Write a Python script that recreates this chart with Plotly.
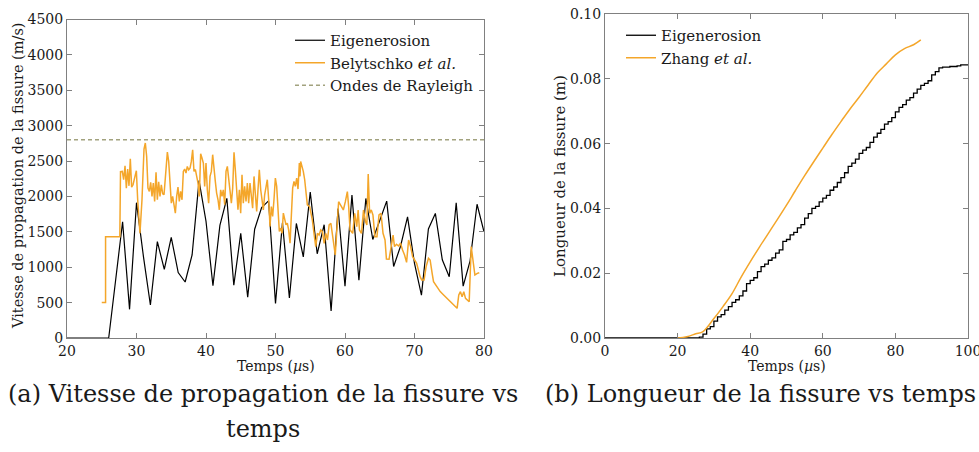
import plotly.graph_objects as go

# ---------------- data: left panel (crack speed) ----------------
eig_t = list(range(20, 81))
eig_v = [0, 0, 0, 0, 0, 0, 0, 820, 1643, 405, 1912, 1150, 466, 1361, 970, 1423,
         925, 791, 1173, 2223, 1650, 739, 1590, 1973, 745, 1478, 578, 1537, 1843,
         1938, 488, 1627, 566, 1618, 1146, 2062, 1190, 1600, 382, 1830, 731, 2019,
         816, 1972, 1392, 1660, 1934, 1010, 1300, 1712, 1053, 605, 1540, 1760, 1105,
         865, 1911, 733, 1090, 1890, 1500]

bel_t = [25.0, 25.55, 25.55, 27.6, 27.7, 27.96, 28.15, 28.35, 28.54, 28.73, 28.92,
         29.11, 29.30, 29.50, 29.78, 29.98, 30.17, 30.50, 30.79, 31.08, 31.27, 31.46,
         31.65, 31.85, 32.04, 32.23, 32.42, 32.61, 32.81, 33.0, 33.19, 33.38, 33.57,
         33.77, 33.96, 34.24, 34.44, 34.63, 34.82, 35.01, 35.20, 35.40, 35.59, 35.78,
         35.97, 36.16, 36.35, 36.55, 36.74, 36.93, 37.12, 37.31, 37.51, 37.70, 37.89,
         38.08, 38.27, 38.47, 38.66, 38.85, 39.04, 39.23, 39.42, 39.62, 39.81, 40.0,
         40.19, 40.38, 40.58, 40.77, 40.96, 41.15, 41.34, 41.53, 41.73, 41.92, 42.11,
         42.30, 42.49, 42.69, 42.88, 43.07, 43.26, 43.45, 43.65, 43.84, 44.03, 44.22,
         44.41, 44.60, 44.80, 44.99, 45.18, 45.37, 45.56, 45.76, 45.95, 46.14, 46.33,
         46.52, 46.71, 46.91, 47.10, 47.29, 47.48, 47.67, 47.87, 48.06, 48.25, 48.44,
         48.63, 48.82, 49.02, 49.21, 49.40, 49.59, 49.78, 49.98, 50.17, 50.36, 50.55,
         50.74, 50.94, 51.13, 51.32, 51.51, 51.70, 51.89, 52.09, 52.28, 52.47, 52.66,
         52.85, 53.05, 53.24, 53.43, 53.53, 53.62, 53.81, 54.0, 54.20, 54.39, 54.58,
         54.92, 55.30, 55.54, 55.79, 56.03, 56.27, 56.51, 56.76, 57.0, 57.24, 57.48,
         57.72, 57.97, 58.21, 58.60, 59.08, 59.42, 59.76, 60.05, 60.34, 60.53, 60.73,
         61.11, 61.40, 61.69, 61.89, 62.08, 62.37, 62.66, 62.95, 63.15, 63.34, 63.54,
         63.78, 64.02, 64.31, 64.60, 64.89, 65.18, 65.47, 65.76, 65.96, 66.34, 66.73,
         66.92, 67.12, 67.41, 67.70, 67.99, 68.28, 68.57, 68.86, 69.15, 69.44, 69.73,
         70.02, 70.31, 70.80, 71.04, 71.38, 71.67, 72.01, 72.25, 72.54, 72.74, 73.22,
         73.70, 74.19, 74.67, 75.16, 75.64, 76.13, 76.37, 76.61, 76.85, 77.09, 77.34,
         77.58, 77.87, 78.16, 78.45, 78.69, 79.03, 79.32]
bel_v = [500, 500, 1430, 1430, 2350, 2354, 2236, 2434, 2118, 2387, 2150,
         2533, 2132, 2165, 2283, 2363, 1953, 1481, 1953, 2670, 2755, 2566,
         2118, 2071, 2198, 2000, 2189, 1929, 2340, 1953, 2207, 2000, 2165,
         2038, 2024, 2434, 2627, 2495, 2094, 1906, 2000, 1858, 1764, 2000,
         2132, 1929, 2071, 1953, 2354, 2387, 2330, 2424, 2377, 2400, 2495,
         2660, 2354, 2380, 2306, 2189, 2000, 2604, 2542, 2472, 2142, 2472,
         2094, 1906, 2283, 2354, 2590, 2330, 2212, 2047, 1953, 1811, 2094,
         2000, 2094, 1882, 2354, 2424, 2236, 2094, 1906, 2118, 2623, 2377,
         2071, 1811, 2094, 1764, 2306, 1906, 2142, 1929, 2189, 1906, 2189,
         2047, 1835, 2283, 1953, 1788, 2094, 2377, 2094, 1953, 1811, 2024,
         2142, 2236, 1953, 1575, 1858, 1717, 1953, 2259, 2142, 1811, 1505,
         1552, 1481, 1764, 1693, 1599, 1622, 1528, 1340, 1811, 2118, 2212,
         2142, 2259, 2104, 2472, 2283, 2495, 2424, 2354, 2236, 2047, 1882,
         1856, 1667, 1479, 1291, 1479, 1455, 1526, 1502, 1338, 1479, 1385,
         1597, 1620, 1432, 1173, 1926, 1856, 1809, 1926, 2068, 1856, 1526,
         1479, 1762, 1573, 1809, 1526, 1479, 1809, 1644, 1597, 2317, 1762,
         1809, 1738, 1432, 1432, 1738, 1762, 1479, 1385, 1116, 1112, 1338,
         1455, 1291, 1324, 1300, 1338, 1243, 1173, 1069, 1385, 1291, 1149,
         1102, 1055, 867, 820, 820, 1008, 1126, 1102, 914, 796, 725,
         655, 608, 560, 513, 466, 419, 608, 655, 584, 655, 560,
         537, 513, 1291, 1102, 890, 914, 923]

rayleigh_t = [20, 80]
rayleigh_speed = [2800, 2800]

# ---------------- data: right panel (crack length) ----------------
len_eig_t = [0, 26, 27, 28, 29, 30, 31, 32, 33, 34, 35, 36, 37, 38, 39, 40, 41, 42,
             43, 44, 45, 46, 47, 48, 49, 50, 51, 52, 53, 54, 55, 56, 57, 58, 59, 60,
             61, 62, 63, 64, 65, 66, 67, 68, 69, 70, 71, 72, 73, 74, 75, 76, 77, 78,
             79, 80, 81, 82, 83, 84, 85, 86, 87, 88, 89, 90, 91, 92, 93, 95, 97, 98, 100]
len_eig_v = [0.0, 0.0003, 0.0012, 0.0028, 0.0035, 0.0052, 0.0065, 0.0072, 0.0086,
             0.0097, 0.0110, 0.0118, 0.0130, 0.0145, 0.0168, 0.0178, 0.0186, 0.0205,
             0.0220, 0.0228, 0.0240, 0.0247, 0.0262, 0.0272, 0.0298, 0.0304, 0.0318,
             0.0326, 0.0340, 0.0350, 0.0370, 0.0384, 0.0400, 0.0406, 0.0420, 0.0432,
             0.0440, 0.0456, 0.0466, 0.0480, 0.0495, 0.0510, 0.0530, 0.0540, 0.0552,
             0.0570, 0.0580, 0.0588, 0.0604, 0.0620, 0.0632, 0.0644, 0.0660, 0.0668,
             0.0680, 0.0698, 0.0712, 0.0720, 0.0734, 0.0742, 0.0756, 0.0768, 0.0780,
             0.0786, 0.0794, 0.0812, 0.0822, 0.0834, 0.0836, 0.0838, 0.0840, 0.0843, 0.0843]

zhang_t = [20, 22.5, 25, 27, 30, 32.5, 35, 37.5, 40, 42.5, 45, 47.5, 50, 52.5, 55,
           57.5, 60, 62.5, 65, 67.5, 70, 72.5, 75, 77.5, 80, 82.5, 85, 87]
zhang_v = [0.0, 0.0004, 0.0013, 0.0020, 0.0060, 0.0097, 0.0137, 0.0188, 0.0235,
           0.0280, 0.0323, 0.0366, 0.0410, 0.0456, 0.0501, 0.0544, 0.0586, 0.0628,
           0.0668, 0.0707, 0.0743, 0.0781, 0.0818, 0.0846, 0.0874, 0.0893, 0.0905, 0.0920]

# ---------------- styling ----------------
W, H = 979, 452
FONT = "DejaVu Serif"
TXT = "#1a1a1a"
ORANGE = "#f4a62a"
BLACK = "#000000"
RAY = "#a2a27e"
AXC = "#808080"


def px(x):
    return x / W


def py(y):
    return 1 - y / H


fig = go.Figure()

fig.add_trace(go.Scatter(x=eig_t, y=eig_v, mode="lines", name="Eigenerosion",
                         line=dict(color=BLACK, width=1.2), xaxis="x", yaxis="y",
                         legend="legend"))
fig.add_trace(go.Scatter(x=bel_t, y=bel_v, mode="lines", name="Belytschko <i>et al.</i>",
                         line=dict(color=ORANGE, width=1.5), xaxis="x", yaxis="y",
                         legend="legend"))
fig.add_trace(go.Scatter(x=rayleigh_t, y=rayleigh_speed, mode="lines", name="Ondes de Rayleigh",
                         line=dict(color=RAY, width=1.5, dash="4px,3px"), xaxis="x", yaxis="y",
                         legend="legend"))

fig.add_trace(go.Scatter(x=len_eig_t, y=len_eig_v, mode="lines", name="Eigenerosion",
                         line=dict(color=BLACK, width=1.3, shape="hv"), xaxis="x2", yaxis="y2",
                         legend="legend2"))
fig.add_trace(go.Scatter(x=zhang_t, y=zhang_v, mode="lines", name="Zhang <i>et al.</i>",
                         line=dict(color=ORANGE, width=1.5, shape="spline"), xaxis="x2", yaxis="y2",
                         legend="legend2"))

axis_common = dict(showline=True, linecolor=AXC, linewidth=1, mirror="allticks",
                   ticks="inside", ticklen=5, tickcolor=AXC, showgrid=False,
                   zeroline=False, ticklabeloverflow="allow",
                   tickfont=dict(family=FONT, size=14, color=TXT))

fig.update_layout(
    width=W, height=H,
    margin=dict(l=0, r=0, t=0, b=0),
    paper_bgcolor="white", plot_bgcolor="white",
    showlegend=True,
    font=dict(family=FONT, color=TXT),
    xaxis=dict(domain=[px(67), px(484)], range=[20, 80], tickvals=[20, 30, 40, 50, 60, 70, 80],
               anchor="y", automargin=False, **axis_common),
    yaxis=dict(domain=[py(338), py(19.5)], range=[0, 4500],
               tickvals=[0, 500, 1000, 1500, 2000, 2500, 3000, 3500, 4000, 4500],
               anchor="x", automargin=False, **axis_common),
    xaxis2=dict(domain=[px(605), px(968)], range=[0, 100], tickvals=[0, 20, 40, 60, 80, 100],
                anchor="y2", automargin=False, **axis_common),
    yaxis2=dict(domain=[py(338), py(14)], range=[0, 0.1],
                tickvals=[0, 0.02, 0.04, 0.06, 0.08, 0.10], tickformat=".2f",
                anchor="x2", automargin=False, **axis_common),
    legend=dict(x=px(290), y=py(24), xanchor="left", yanchor="top",
                bgcolor="rgba(0,0,0,0)", borderwidth=0,
                font=dict(family=FONT, size=15, color=TXT),
                itemwidth=30, tracegroupgap=0),
    legend2=dict(x=px(621), y=py(19), xanchor="left", yanchor="top",
                 bgcolor="rgba(0,0,0,0)", borderwidth=0,
                 font=dict(family=FONT, size=15, color=TXT),
                 itemwidth=30, tracegroupgap=0),
)

ann = []
# axis titles
for cx in (275.5, 786.5):
    ann.append(dict(text="Temps (<i>µ</i>s)", x=px(cx), y=py(366), xref="paper", yref="paper",
                    showarrow=False, font=dict(family=FONT, size=14, color=TXT),
                    xanchor="center", yanchor="middle"))
ann.append(dict(text="Vitesse de propagation de la fissure (m/s)", x=px(18), y=py(176),
                xref="paper", yref="paper", showarrow=False, textangle=-90,
                font=dict(family=FONT, size=14.5, color=TXT), xanchor="center", yanchor="middle"))
ann.append(dict(text="Longueur de la fissure (m)", x=px(560), y=py(176),
                xref="paper", yref="paper", showarrow=False, textangle=-90,
                font=dict(family=FONT, size=15, color=TXT), xanchor="center", yanchor="middle"))
# captions
ann.append(dict(text="(a) Vitesse de propagation de la fissure vs", x=px(263), y=py(394),
                xref="paper", yref="paper", showarrow=False,
                font=dict(family=FONT, size=24, color=TXT), xanchor="center", yanchor="middle"))
ann.append(dict(text="temps", x=px(263), y=py(429),
                xref="paper", yref="paper", showarrow=False,
                font=dict(family=FONT, size=24, color=TXT), xanchor="center", yanchor="middle"))
ann.append(dict(text="(b) Longueur de la fissure vs temps", x=px(543), y=py(394),
                xref="paper", yref="paper", showarrow=False,
                font=dict(family=FONT, size=24, color=TXT), xanchor="left", yanchor="middle"))
fig.update_layout(annotations=ann)

fig.write_html("out.html", config={"displayModeBar": False},
               post_script="document.body.style.margin='0px';")
